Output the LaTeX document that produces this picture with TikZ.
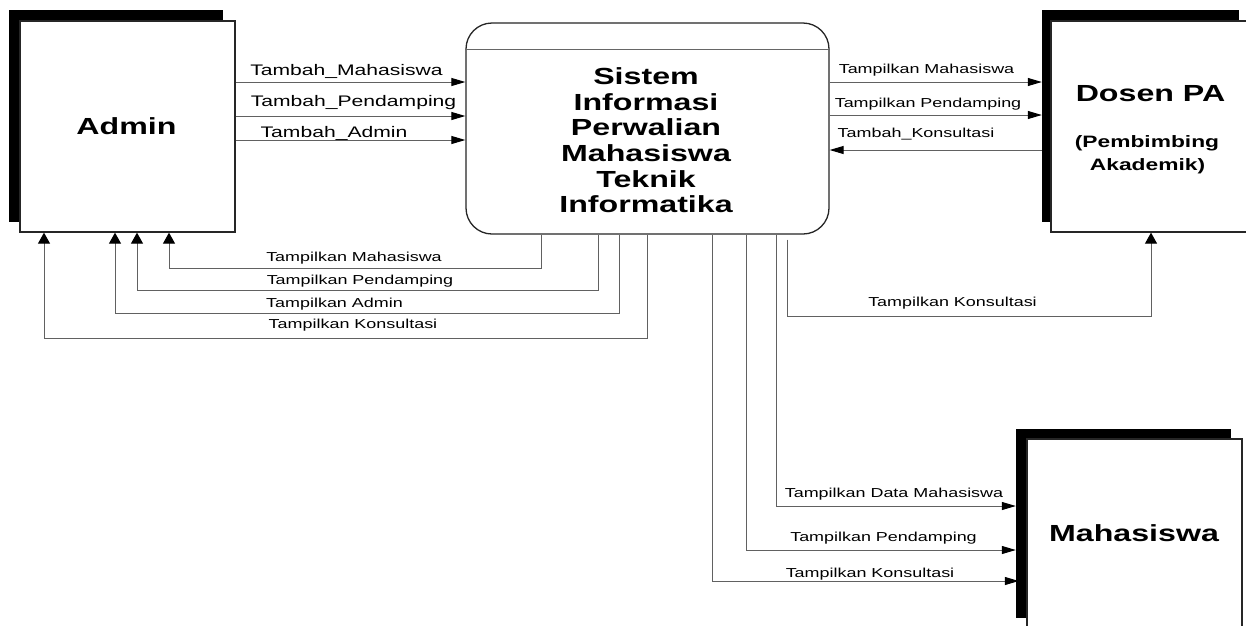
\documentclass[tikz,border=0pt]{standalone}
\usepackage{fontspec}
\usetikzlibrary{arrows.meta,calc}
\newfontfamily\lab[FakeStretch=1.38]{Liberation Sans}
\begin{document}
\begin{tikzpicture}[x=1pt,y=-1pt,
  shadowbox/.style={fill=black,draw=none,inner sep=0pt},
  whitebox/.style={fill=white,draw=black!85,line width=1.3pt,inner sep=0pt},
  conn/.style={draw=black!62,line width=1pt},
  hflow/.style={conn,-{Triangle[length=14pt,width=8pt,black]}},
  vflow/.style={conn,-{Triangle[length=11pt,width=12pt,black]}},
  lbl/.style={inner sep=0pt,anchor=base,font=\lab\fontsize{13}{15}\selectfont},
  biglbl/.style={inner sep=0pt,anchor=base,font=\lab\fontsize{15.3}{18}\selectfont},
  title/.style={inner sep=0pt,anchor=base,font=\lab\bfseries\fontsize{23.3}{25.6}\selectfont}
]
\fill[white] (0,0) rectangle (1246,625);
\useasboundingbox (0,0) rectangle (1246,625);

% Admin
\node[shadowbox,minimum width=214pt,minimum height=212pt] (adminS) at (116,116) {};
\node[whitebox,minimum width=215pt,minimum height=211pt] (admin) at (127.5,126.5) {};
\node[title] (admintxt) at (126.5,134) {Admin};

% System process
\node[fill=white,draw=black!85,line width=1.3pt,rounded corners=26pt,inner sep=0pt,
      minimum width=363pt,minimum height=211pt] (sys) at (647.5,128.5) {};
\draw[draw=black!60,line width=1pt] (sys.west |- 0,49) -- (sys.east |- 0,49);
\node[inner sep=0pt,align=center,font=\lab\bfseries\fontsize{23.3}{25.6}\selectfont]
  (systxt) at (646,140.4) {Sistem\\Informasi\\Perwalian\\Mahasiswa\\Teknik\\Informatika};

% Dosen PA
\node[shadowbox,minimum width=197pt,minimum height=212pt] (dosenS) at (1140.5,116) {};
\node[whitebox,minimum width=201pt,minimum height=211pt] (dosen) at (1151.5,126.5) {};
\node[title] (dosentxt) at (1150.5,101) {Dosen PA};
\node[inner sep=0pt,anchor=base,font=\lab\bfseries\fontsize{16.5}{23}\selectfont] (pbtxt) at (1147,147) {(Pembimbing};
\node[inner sep=0pt,anchor=base,font=\lab\bfseries\fontsize{16.5}{23}\selectfont] (aktxt) at (1147.5,170) {Akademik)};

% Mahasiswa
\node[shadowbox,minimum width=215pt,minimum height=189pt] (mhsS) at (1123.5,523.5) {};
\node[whitebox,minimum width=215pt,minimum height=201pt] (mhs) at (1134.5,539.5) {};
\node[title] (mhstxt) at (1134,541) {Mahasiswa};

% Admin -> System
\draw[hflow] (admin.east |- 0,82) -- (sys.west |- 0,82);
\draw[hflow] (admin.east |- 0,116) -- (sys.west |- 0,116);
\draw[hflow] (admin.east |- 0,140) -- (sys.west |- 0,140);
\node[biglbl] (l1) at (346.5,75) {Tambah\_Mahasiswa};
\node[biglbl] (l2) at (353.5,106) {Tambah\_Pendamping};
\node[biglbl] (l3) at (334,137) {Tambah\_Admin};

% System -> Dosen
\draw[hflow] (sys.east |- 0,82) -- (dosenS.west |- 0,82);
\draw[hflow] (sys.east |- 0,115) -- (dosenS.west |- 0,115);
\draw[hflow] (dosenS.west |- 0,150) -- (sys.east |- 0,150);
\node[lbl] (r1) at (926.5,73) {Tampilkan Mahasiswa};
\node[lbl] (r2) at (928,107) {Tampilkan Pendamping};
\node[lbl] (r3) at (916,137) {Tambah\_Konsultasi};

% System -> Admin (bottom)
\draw[vflow] (sys.south -| 541,0) |- (169,268) -- (admin.south -| 169,0);
\draw[vflow] (sys.south -| 598,0) |- (137,290) -- (admin.south -| 137,0);
\draw[vflow] (sys.south -| 619,0) |- (115,313) -- (admin.south -| 115,0);
\draw[vflow] (sys.south -| 647,0) |- (44,338) -- (admin.south -| 44,0);
\node[lbl] (b1) at (354,261) {Tampilkan Mahasiswa};
\node[lbl] (b2) at (360,284) {Tampilkan Pendamping};
\node[lbl] (b3) at (334.5,307) {Tampilkan Admin};
\node[lbl] (b4) at (353,328) {Tampilkan Konsultasi};

% System -> Dosen (bottom)
\draw[vflow] ($(sys.south -| 787,0)+(0,5)$) |- (1151,316) -- (dosen.south -| 1151,0);
\node[lbl] (d1) at (952.5,306) {Tampilkan Konsultasi};

% System -> Mahasiswa
\draw[hflow] (sys.south -| 776,0) |- (mhsS.west |- 0,506);
\draw[hflow] (sys.south -| 746,0) |- (mhsS.west |- 0,550);
\draw[hflow] (sys.south -| 712,0) |- ([xshift=3pt]mhsS.west |- 0,581);
\node[lbl] (m1) at (894,497) {Tampilkan Data Mahasiswa};
\node[lbl] (m2) at (883.5,541) {Tampilkan Pendamping};
\node[lbl] (m3) at (870,577) {Tampilkan Konsultasi};
\end{tikzpicture}
\end{document}
